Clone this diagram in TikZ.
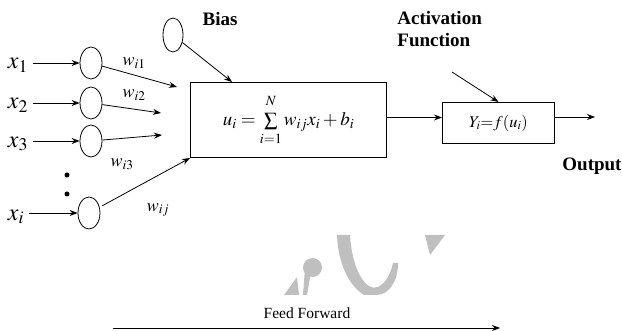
\documentclass[tikz,border=0pt]{standalone}
\usepackage{mathptmx}
\usepackage{fontspec}
\setmainfont{Liberation Serif}
\usetikzlibrary{arrows.meta,shapes.geometric}
\begin{document}
\begin{tikzpicture}[x=1pt,y=-1pt, line width=0.8pt,
  >={Stealth[length=8pt,width=6pt]},
  neuron/.style={draw, ellipse, minimum width=22pt, minimum height=32pt, inner sep=0pt},
  xlbl/.style={font=\fontsize{24}{26}\selectfont, inner sep=0pt},
  wlbl/.style={font=\fontsize{18}{20}\selectfont, inner sep=0pt},
  boldlbl/.style={font=\fontsize{19}{22}\selectfont\bfseries, inner sep=0pt},
  blk/.style={draw, line width=1pt, inner sep=0pt},
  dot/.style={circle, fill=black, minimum size=5pt, inner sep=0pt},
  wm/.style={fill=black!25, draw=none}]
\useasboundingbox (0,0) rectangle (622,331);

% watermark
\fill[wm] (284,295) -- (297,277) -- (299,295) -- cycle;
\fill[wm] (312.5,267.5) circle (9.5);
\fill[wm] (303,295) -- (305,268) -- (311,272) -- (307,295) -- cycle;
\fill[wm] (337,235) -- (350,235) .. controls (352,270) and (366,292) .. (378,287)
  .. controls (386,283) and (391,273) .. (393,263) -- (398,263)
  .. controls (398,280) and (390,295) .. (376,295) -- (364,295)
  .. controls (348,285) and (338,262) .. (337,235) -- cycle;
\fill[wm] (425,235) -- (445,235) -- (430,255) -- cycle;

% inputs
\node[xlbl] (x1) at (18,65) {$x_1$};
\node[xlbl] (x2) at (18,105) {$x_2$};
\node[xlbl] (x3) at (18,144) {$x_3$};
\node[xlbl] (xi) at (16,217) {$x_i$};

\node[neuron] (n1) at (91,63) {};
\node[neuron] (n2) at (91,103) {};
\node[neuron] (n3) at (91,141) {};
\node[neuron] (n4) at (89,213) {};

\node[dot] (d1) at (67,175) {};
\node[dot] (d2) at (67,194) {};

\draw[->] (x1.east |- n1.west) ++(5,0) -- (n1.west);
\draw[->] (x2.east |- n2.west) ++(5,0) -- (n2.west);
\draw[->] (x3.east |- n3.west) ++(5,0) -- (n3.west);
\draw[->] (xi.east |- n4.west) ++(5,0) -- (n4.west);

% summation block
\node[blk, minimum width=196pt, minimum height=75pt, anchor=north west] (box) at (190,82)
  {\fontsize{19}{22}\selectfont $u_i = \sum\limits_{\raisebox{-3pt}{$\scriptstyle i=1$}}^{\raisebox{4pt}{$\scriptstyle N$}} w_{ij} x_i + b_i$};

\coordinate (t1) at (177,87);
\coordinate (t2) at (161,113);
\coordinate (t3) at (162,135);
\draw[->] (n1) -- (t1);
\draw[->] (n2) -- (t2);
\draw[->] (n3) -- (t3);
\draw[->, shorten <=3pt] (n4) -- (box.south west);

\node[wlbl] (w1) at (134,63) {$w_{i1}$};
\node[wlbl] (w2) at (134,95) {$w_{i2}$};
\node[wlbl] (w3) at (122,164) {$w_{i3}$};
\node[wlbl] (wj) at (158,210) {$w_{ij}$};

% bias
\node[neuron, minimum width=20pt, minimum height=34pt] (bc) at (173,35) {};
\node[boldlbl] (bias) at (220,19) {Bias};
\coordinate (bt) at (232,82);
\draw[->] (bc) -- (bt);

% activation block
\node[blk, minimum width=112pt, minimum height=41pt, anchor=north west] (box2) at (442,102)
  {\fontsize{16.5}{20}\selectfont $Y_{i}\!\!=\!\!f(u_i)$};
\draw[->] ([yshift=2.5pt]box.east) -- ([yshift=2.5pt]box.east -| box2.west);
\coordinate (oe) at (595,117);
\draw[->] (box2.east |- oe) -- (oe);

\node[boldlbl, align=left, anchor=north west] (act) at (397,11) {Activation\\Function};
\coordinate (af) at (452,72);
\draw[->] (af) -- (box2.north);

\node[boldlbl] (out) at (592,166) {Output};

% feed forward
\node[font=\fontsize{15.5}{17}\selectfont, inner sep=0pt] (ff) at (307,313) {Feed Forward};
\coordinate (ffa) at (113,328);
\coordinate (ffb) at (500,328);
\draw[->] (ffa) -- (ffb);
\end{tikzpicture}
\end{document}
